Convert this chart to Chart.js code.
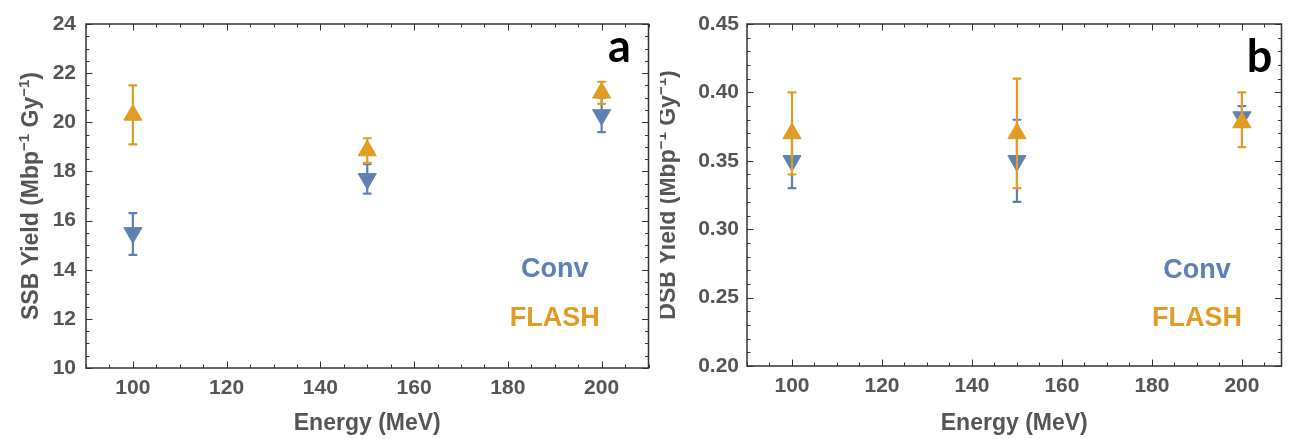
<!DOCTYPE html>
<html>
<head>
<meta charset="utf-8">
<title>SSB and DSB yield vs energy</title>
<script src="https://cdn.jsdelivr.net/npm/chart.js@4.4.1/dist/chart.umd.min.js"></script>
<style>
  html, body { margin: 0; padding: 0; background: #ffffff; }
  #wrap { position: relative; width: 1293px; height: 439px; overflow: hidden; }
  canvas { position: absolute; top: 0; }
  #c1 { left: 0; }
  #c2 { left: 660px; }
</style>
</head>
<body>
<div id="wrap">
  <canvas id="c1" width="660" height="439"></canvas>
  <canvas id="c2" width="633" height="439"></canvas>
</div>
<script>
// Proton energies (MeV) and axis labels
const energies = [100, 150, 200];
const energyTicks = [100, 120, 140, 160, 180, 200];
const ssbTicks = [10, 12, 14, 16, 18, 20, 22, 24];
const dsbTicks = [0.20, 0.25, 0.30, 0.35, 0.40, 0.45];

// Single-strand break yield (Mbp^-1 Gy^-1)
const ssbConv = [15.5, 17.7, 20.3];
const ssbConvLow = [14.6, 17.1, 19.6];
const ssbConvHigh = [16.3, 18.3, 21.0];
const ssbFlash = [20.3, 18.85, 21.2];
const ssbFlashLow = [19.1, 18.35, 20.75];
const ssbFlashHigh = [21.5, 19.35, 21.65];

// Double-strand break yield (Mbp^-1 Gy^-1)
const dsbConv = [0.35, 0.35, 0.382];
const dsbConvLow = [0.33, 0.32, 0.375];
const dsbConvHigh = [0.37, 0.38, 0.39];
const dsbFlash = [0.37, 0.37, 0.378];
const dsbFlashLow = [0.34, 0.33, 0.36];
const dsbFlashHigh = [0.40, 0.41, 0.40];

const BLUE = '#5E81B5';
const ORANGE = '#E19C24';
const FONT = '"Liberation Sans", Arial, Helvetica, sans-serif';
const TEXT = '#555555';
const FRAME = '#333333';

Chart.defaults.font.family = FONT;

function near(a, b) { return Math.abs(a - b) < 1e-9; }

// Error bars under each series, then frame with inward ticks, titles and labels on top
const framePlugin = {
  id: 'frame',
  beforeDatasetDraw(chart, args) {
    const ds = chart.data.datasets[args.index];
    if (!ds.errLow) return;
    const { ctx, scales: { x, y } } = chart;
    ctx.save();
    ctx.strokeStyle = ds.backgroundColor;
    ctx.lineWidth = 2.2;
    ctx.lineCap = 'round';
    ds.data.forEach((p, i) => {
      const px = x.getPixelForValue(p.x);
      const y1 = y.getPixelForValue(ds.errLow[i]);
      const y2 = y.getPixelForValue(ds.errHigh[i]);
      ctx.beginPath();
      ctx.moveTo(px, y1); ctx.lineTo(px, y2);
      ctx.moveTo(px - 3.5, y1); ctx.lineTo(px + 3.5, y1);
      ctx.moveTo(px - 3.5, y2); ctx.lineTo(px + 3.5, y2);
      ctx.stroke();
    });
    ctx.restore();
  },
  afterDraw(chart, args, o) {
    const { ctx, chartArea: { left, right, top, bottom }, scales: { x, y } } = chart;
    ctx.save();

    // minor / major ticks pointing into the plot on all four sides
    ctx.strokeStyle = FRAME;
    ctx.lineWidth = 1;
    ctx.beginPath();
    for (let i = 0; ; i++) {
      const v = x.min + i * o.xStep;
      if (v > x.max + 1e-9) break;
      const px = Math.round(x.getPixelForValue(v)) + 0.5;
      const len = energyTicks.some(t => near(t, v)) ? 6.5 : 3.5;
      ctx.moveTo(px, bottom); ctx.lineTo(px, bottom - len);
      ctx.moveTo(px, top); ctx.lineTo(px, top + len);
    }
    for (let i = 0; ; i++) {
      const v = +(y.min + i * o.yStep).toFixed(6);
      if (v > y.max + 1e-9) break;
      const py = Math.round(y.getPixelForValue(v)) + 0.5;
      const len = o.yTicks.some(t => near(t, v)) ? 6.5 : 3.5;
      ctx.moveTo(left, py); ctx.lineTo(left + len, py);
      ctx.moveTo(right, py); ctx.lineTo(right - len, py);
    }
    ctx.stroke();

    // frame
    ctx.lineWidth = 1.5;
    ctx.strokeRect(left, top, right - left, bottom - top);

    // x axis title
    ctx.fillStyle = TEXT;
    ctx.font = 'bold 23px ' + FONT;
    ctx.textAlign = 'center';
    ctx.textBaseline = 'alphabetic';
    ctx.fillText('Energy (MeV)', (left + right) / 2, o.xTitleBaseline);

    // rotated y axis title with superscripts
    const parts = [[o.yTitleLead, false], ['\u22121', true], [' Gy', false], ['\u22121', true], [')', false]];
    const mainFont = 'bold 23px ' + FONT;
    const supFont = 'bold 15px ' + FONT;
    let total = 0;
    parts.forEach(([t, sup]) => { ctx.font = sup ? supFont : mainFont; total += ctx.measureText(t).width; });
    ctx.translate(o.yTitleBaseline, (top + bottom) / 2);
    ctx.rotate(-Math.PI / 2);
    ctx.textAlign = 'left';
    let cx = -total / 2;
    parts.forEach(([t, sup]) => {
      ctx.font = sup ? supFont : mainFont;
      ctx.fillText(t, cx, sup ? -9 : 0);
      cx += ctx.measureText(t).width;
    });
    ctx.setTransform(1, 0, 0, 1, 0, 0);

    // series labels inside the plot
    ctx.textAlign = 'center';
    ctx.textBaseline = 'middle';
    ctx.font = 'bold 27px ' + FONT;
    o.seriesLabels.forEach(l => {
      ctx.fillStyle = l.color;
      ctx.fillText(l.text, x.getPixelForValue(l.x), y.getPixelForValue(l.y));
    });

    // panel letter
    ctx.fillStyle = '#000000';
    ctx.font = 'bold 45px Lato, "Open Sans", sans-serif';
    ctx.textBaseline = 'alphabetic';
    ctx.fillText(o.letter, right - o.letterDx, top + o.letterDy);
    ctx.restore();
  }
};

function series(xs, ys) { return xs.map((v, i) => ({ x: v, y: ys[i] })); }

function makePanel(id, p) {
  return new Chart(document.getElementById(id), {
    type: 'scatter',
    data: {
      datasets: [
        {
          label: 'FLASH',
          data: series(energies, p.flash),
          errLow: p.flashLow, errHigh: p.flashHigh,
          backgroundColor: ORANGE, borderColor: ORANGE, borderWidth: 1,
          pointStyle: 'triangle', pointRadius: 10.5, rotation: 0
        },
        {
          label: 'Conv',
          data: series(energies, p.conv),
          errLow: p.convLow, errHigh: p.convHigh,
          backgroundColor: BLUE, borderColor: BLUE, borderWidth: 1,
          pointStyle: 'triangle', pointRadius: 10.5, rotation: 180
        }
      ]
    },
    options: {
      responsive: false,
      animation: false,
      devicePixelRatio: 1,
      layout: { padding: { left: 0, right: p.padRight, top: 24, bottom: 0 } },
      plugins: {
        legend: { display: false },
        tooltip: { enabled: false },
        frame: p.frame
      },
      scales: {
        x: {
          type: 'linear', min: 90, max: p.xMax,
          afterBuildTicks: s => { s.ticks = energyTicks.map(v => ({ value: v })); },
          afterFit: s => { s.height = p.xAxisHeight; },
          grid: { display: false, drawTicks: false },
          border: { display: false },
          ticks: { color: TEXT, padding: 8, font: { size: 21, weight: 'bold' }, maxRotation: 0 }
        },
        y: {
          type: 'linear', min: p.yTicks[0], max: p.yTicks[p.yTicks.length - 1],
          afterBuildTicks: s => { s.ticks = p.yTicks.map(v => ({ value: v })); },
          afterFit: s => { s.width = p.yAxisWidth; },
          grid: { display: false, drawTicks: false },
          border: { display: false },
          ticks: { color: TEXT, padding: p.yPad, font: { size: 21, weight: 'bold' }, callback: p.fmt }
        }
      }
    },
    plugins: [framePlugin]
  });
}

makePanel('c1', {
  conv: ssbConv, convLow: ssbConvLow, convHigh: ssbConvHigh,
  flash: ssbFlash, flashLow: ssbFlashLow, flashHigh: ssbFlashHigh,
  yTicks: ssbTicks, fmt: v => String(v),
  xMax: 210, padRight: 9, yAxisWidth: 86, xAxisHeight: 71, yPad: 10,
  frame: {
    xStep: 5, yStep: 0.5, yTicks: ssbTicks,
    xTitleBaseline: 430, yTitleBaseline: 38, yTitleLead: 'SSB Yield (Mbp',
    seriesLabels: [
      { text: 'Conv', x: 190, y: 14, color: BLUE },
      { text: 'FLASH', x: 190, y: 12, color: ORANGE }
    ],
    letter: 'a', letterDx: 29, letterDy: 38
  }
});

makePanel('c2', {
  conv: dsbConv, convLow: dsbConvLow, convHigh: dsbConvHigh,
  flash: dsbFlash, flashLow: dsbFlashLow, flashHigh: dsbFlashHigh,
  yTicks: dsbTicks, fmt: v => v.toFixed(2),
  xMax: 208.8, padRight: 6, yAxisWidth: 87, xAxisHeight: 73, yPad: 8,
  frame: {
    xStep: 5, yStep: 0.01, yTicks: dsbTicks,
    xTitleBaseline: 430, yTitleBaseline: 15, yTitleLead: 'DSB Yield (Mbp',
    seriesLabels: [
      { text: 'Conv', x: 190, y: 0.27, color: BLUE },
      { text: 'FLASH', x: 190, y: 0.235, color: ORANGE }
    ],
    letter: 'b', letterDx: 22, letterDy: 48
  }
});
</script>
</body>
</html>
